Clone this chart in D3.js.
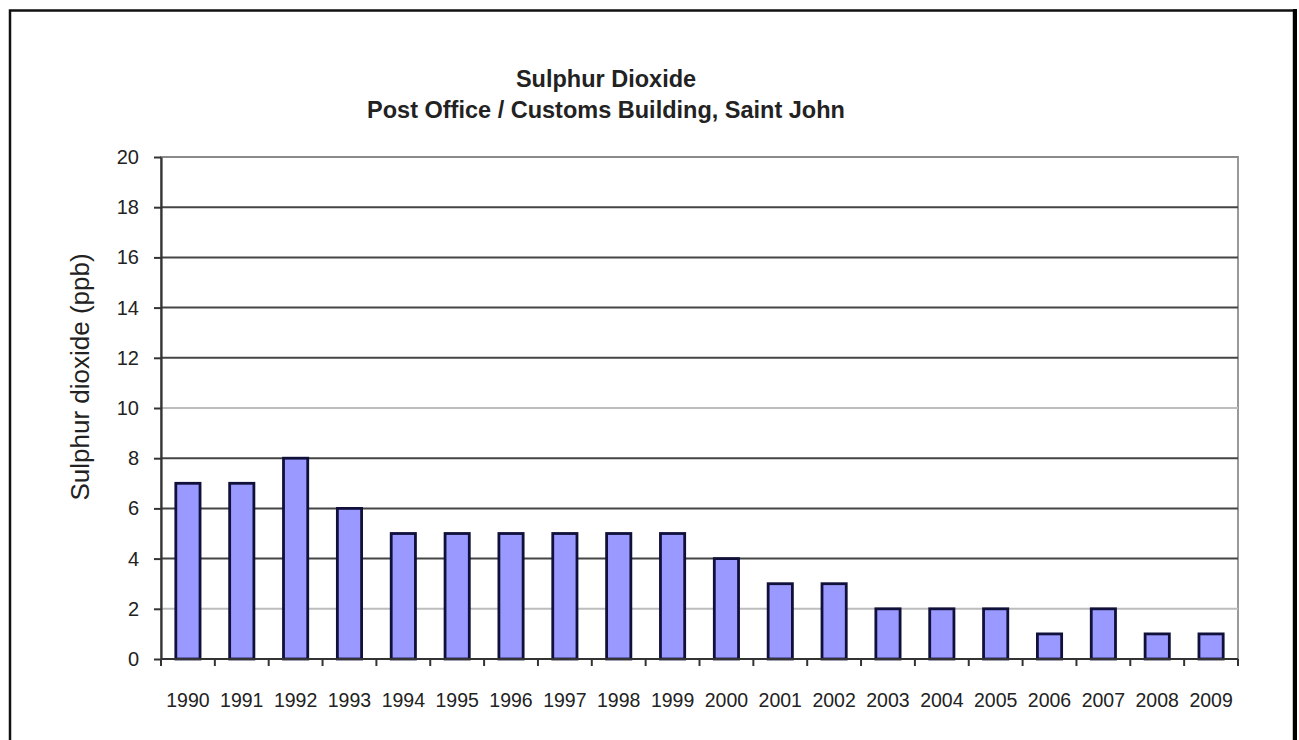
<!DOCTYPE html>
<html>
<head>
<meta charset="utf-8">
<script src="https://cdn.jsdelivr.net/npm/d3@7"></script>
<style>
  html, body { margin: 0; padding: 0; background: #fff; }
  svg { display: block; }
  text { font-family: "Liberation Sans", Arial, sans-serif; fill: #222; }
</style>
</head>
<body>
<svg id="chart" width="1299" height="740"></svg>
<script>
const years = ["1990","1991","1992","1993","1994","1995","1996","1997","1998","1999",
               "2000","2001","2002","2003","2004","2005","2006","2007","2008","2009"];
const so2Values = [7,7,8,6,5,5,5,5,5,5,4,3,3,2,2,2,1,2,1,1];
const yTicks = [0,2,4,6,8,10,12,14,16,18,20];
const titleLines = ["Sulphur Dioxide", "Post Office / Customs Building, Saint John"];
const yAxisTitle = "Sulphur dioxide (ppb)";

const svg = d3.select("#chart");
const plot = { left: 161, right: 1238, top: 157, bottom: 659 };

// outer frame
svg.append("rect")
  .attr("x", 10).attr("y", 10.5)
  .attr("width", 1284).attr("height", 760)
  .attr("fill", "#fff").attr("stroke", "#111").attr("stroke-width", 2.5);
svg.append("line")
  .attr("x1", 1295).attr("x2", 1295).attr("y1", 9).attr("y2", 740)
  .attr("stroke", "#000").attr("stroke-width", 4);

const x = d3.scaleBand()
  .domain(years)
  .range([plot.left, plot.right])
  .paddingInner(0.55)
  .paddingOuter(0.275);

const y = d3.scaleLinear()
  .domain([0, 20])
  .range([plot.bottom, plot.top]);

// plot area
svg.append("rect")
  .attr("x", plot.left).attr("y", plot.top)
  .attr("width", plot.right - plot.left).attr("height", plot.bottom - plot.top)
  .attr("fill", "#fff").attr("stroke", "#999").attr("stroke-width", 2);

// gridlines
svg.append("g")
  .selectAll("line")
  .data(yTicks.filter(d => d > 0))
  .join("line")
  .attr("x1", plot.left).attr("x2", plot.right)
  .attr("y1", d => y(d)).attr("y2", d => y(d))
  .attr("stroke", d => (d === 10 || d === 2) ? "#bdbdbd" : (d === 20 ? "#8a8a8a" : "#454545"))
  .attr("stroke-width", 2);

// bars
svg.append("g")
  .selectAll("rect")
  .data(years.map((yr, i) => ({ yr, v: so2Values[i] })))
  .join("rect")
  .attr("x", d => x(d.yr))
  .attr("y", d => y(d.v))
  .attr("width", x.bandwidth())
  .attr("height", d => y(0) - y(d.v))
  .attr("fill", "#9999ff")
  .attr("stroke", "#10103a")
  .attr("stroke-width", 2.8);

// y axis
const yAxis = svg.append("g")
  .attr("transform", `translate(${plot.left},0)`)
  .call(d3.axisLeft(y).tickValues(yTicks).tickSize(7).tickPadding(15).tickSizeOuter(0));
yAxis.select(".domain").attr("stroke", "#333").attr("stroke-width", 2.2);
yAxis.selectAll(".tick line").attr("stroke", "#333").attr("stroke-width", 2);
yAxis.selectAll(".tick text")
  .style("font-family", "'Liberation Sans', Arial, sans-serif")
  .style("font-size", "20px").attr("fill", "#222");

// x axis: tick marks at category boundaries
const boundaries = years.map(yr => x(yr) - x.step() * x.paddingInner() / 2).concat([plot.right]);
const xg = svg.append("g");
xg.append("line")
  .attr("x1", plot.left).attr("x2", plot.right)
  .attr("y1", y(0)).attr("y2", y(0))
  .attr("stroke", "#333").attr("stroke-width", 2.2);
xg.selectAll("line.tk")
  .data(boundaries)
  .join("line").attr("class", "tk")
  .attr("x1", d => d).attr("x2", d => d)
  .attr("y1", y(0)).attr("y2", y(0) + 7)
  .attr("stroke", "#333").attr("stroke-width", 2);
xg.selectAll("text")
  .data(years)
  .join("text")
  .attr("x", d => x(d) + x.bandwidth() / 2)
  .attr("y", 707)
  .attr("text-anchor", "middle")
  .style("font-size", "19.5px")
  .text(d => d);

// titles
svg.append("text")
  .attr("x", 606).attr("y", 87)
  .attr("text-anchor", "middle")
  .style("font-size", "23.5px").style("font-weight", "bold")
  .text(titleLines[0]);
svg.append("text")
  .attr("x", 606).attr("y", 118)
  .attr("text-anchor", "middle")
  .style("font-size", "23.5px").style("font-weight", "bold")
  .text(titleLines[1]);

// y axis title
svg.append("text")
  .attr("transform", "translate(89,377) rotate(-90)")
  .attr("text-anchor", "middle")
  .style("font-size", "26px")
  .text(yAxisTitle);
</script>
</body>
</html>
